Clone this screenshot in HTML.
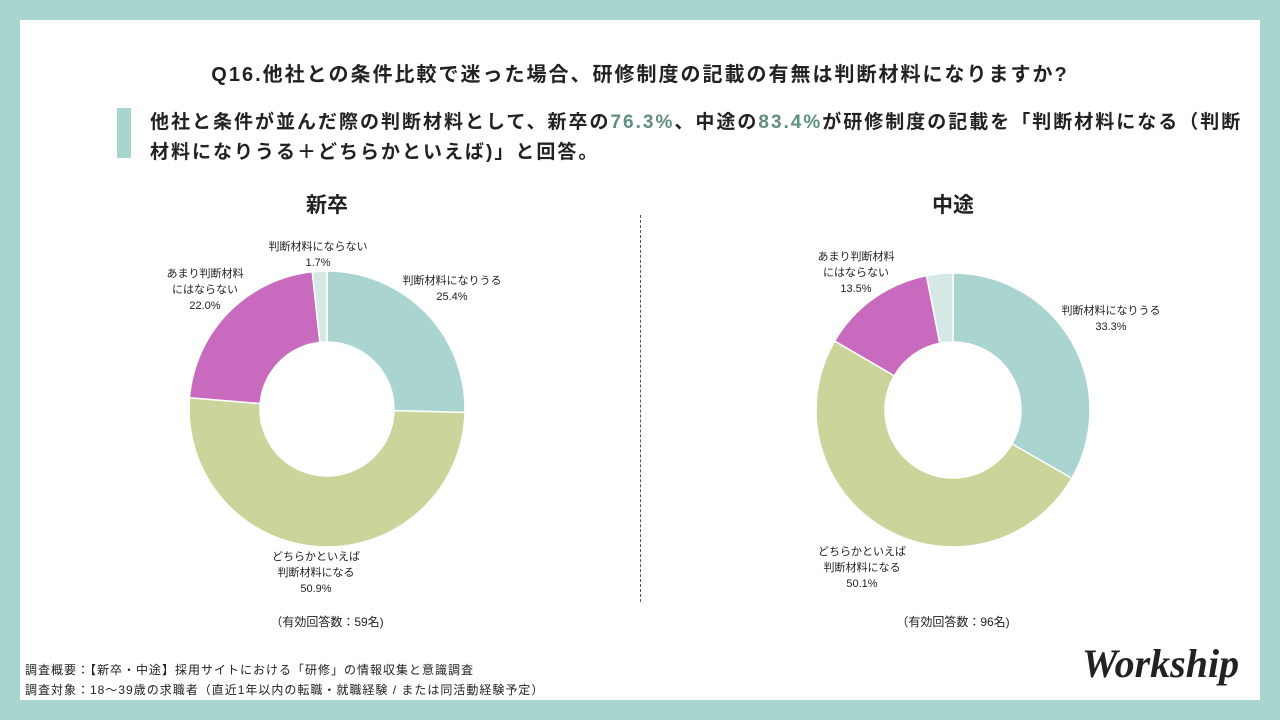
<!DOCTYPE html>
<html><head><meta charset="utf-8"><style>
body{margin:0;width:1280px;height:720px;background:#a9d5d1;font-family:"Liberation Sans","Noto Sans CJK JP",sans-serif;position:relative;overflow:hidden}
.card{position:absolute;left:20px;top:20px;width:1240px;height:680px;background:#fff}
.t{position:absolute;color:#222;white-space:nowrap}
</style></head><body>
<div class="card"></div>
<div class="t" style="left:0;width:1280px;text-align:center;top:58px;font-size:20px;font-weight:bold;letter-spacing:2px">Q16.他社との条件比較で迷った場合、研修制度の記載の有無は判断材料になりますか?</div>
<div style="position:absolute;left:117px;top:108px;width:14px;height:50px;background:#a9d5d1"></div>
<div class="t" style="left:150px;top:108px;font-size:19px;font-weight:bold;line-height:30px;letter-spacing:2px">他社と条件が並んだ際の判断材料として、新卒の<span style="color:#5f8f80">76.3%</span>、中途の<span style="color:#5f8f80">83.4%</span>が研修制度の記載を「判断材料になる（判断<br>材料になりうる＋どちらかといえば)」と回答。</div>
<div style="position:absolute;left:640px;top:215px;height:387px;border-left:1px dashed #555"></div>
<svg id="svg" width="1280" height="720" style="position:absolute;left:0;top:0"></svg>
<div class="t" style="left:25px;top:660px;font-size:12px;line-height:20px;letter-spacing:1px">調査概要：【新卒・中途】採用サイトにおける「研修」の情報収集と意識調査<br>調査対象：18〜39歳の求職者（直近1年以内の転職・就職経験 / または同活動経験予定）</div>
<div class="t" style="left:1082px;top:640px;font-size:40px;font-weight:bold;font-style:italic;font-family:'Liberation Serif',serif;color:#222">Workship</div>
<script>
const categories=["判断材料になりうる","どちらかといえば判断材料になる","あまり判断材料にはならない","判断材料にならない"];
const shinsotsu=[25.4,50.9,22.0,1.7];
const chuto=[33.3,50.1,13.5,3.1];
const colors=["#a9d4d0","#cbd49b","#c86bbe","#d6e8e6"];
const NS="http://www.w3.org/2000/svg";
const svg=document.getElementById('svg');
function txt(x,y,lines,size,weight,name){
  const t=document.createElementNS(NS,'text');
  
  
  t.setAttribute('x',x);t.setAttribute('y',y);t.setAttribute('text-anchor','middle');
  t.setAttribute('font-size',size);t.setAttribute('fill','#222');if(weight)t.setAttribute('font-weight',weight);
  t.setAttribute('font-family','"Liberation Sans","Noto Sans CJK JP",sans-serif');
  lines.forEach((l,i)=>{const s=document.createElementNS(NS,'tspan');s.setAttribute('x',x);s.setAttribute('dy',i?size*1.45:0);s.textContent=l;t.appendChild(s);});
  svg.appendChild(t);
}
function donut(cx,cy,R,r,vals,key){
  const tot=vals.reduce((a,b)=>a+b,0);let a0=0;
  vals.forEach((v,i)=>{
    const a1=a0+v/tot*Math.PI*2;
    const p=(a,rr)=>[cx+rr*Math.sin(a),cy-rr*Math.cos(a)];
    const [x1,y1]=p(a0,R),[x2,y2]=p(a1,R),[x3,y3]=p(a1,r),[x4,y4]=p(a0,r);
    const lg=(a1-a0)>Math.PI?1:0;
    const path=document.createElementNS(NS,'path');
    
    
    path.setAttribute('d',`M${x1},${y1}A${R},${R} 0 ${lg} 1 ${x2},${y2}L${x3},${y3}A${r},${r} 0 ${lg} 0 ${x4},${y4}Z`);
    path.setAttribute('fill',colors[i]);path.setAttribute('stroke','#fff');path.setAttribute('stroke-width','1.5');
    svg.appendChild(path);a0=a1;
  });
}
donut(327,409,138,67,shinsotsu,'shinsotsu');
donut(953,410,137,68,chuto,'chuto');
txt(327,212,["新卒"],21,'bold','shinsotsu-heading');
txt(953,212,["中途"],21,'bold','chuto-heading');
const f=v=>v.toFixed(1)+"%";
txt(452,284,["判断材料になりうる",f(shinsotsu[0])],11,null,'label');
txt(316,560,["どちらかといえば","判断材料になる",f(shinsotsu[1])],11,null,'label');
txt(205,277,["あまり判断材料","にはならない",f(shinsotsu[2])],11,null,'label');
txt(318,250,["判断材料にならない",f(shinsotsu[3])],11,null,'label');
txt(1111,314,["判断材料になりうる",f(chuto[0])],11,null,'label');
txt(862,555,["どちらかといえば","判断材料になる",f(chuto[1])],11,null,'label');
txt(856,260,["あまり判断材料","にはならない",f(chuto[2])],11,null,'label');
txt(327,626,["（有効回答数：59名)"],12,null,'n-shinsotsu');
txt(953,626,["（有効回答数：96名)"],12,null,'n-chuto');
</script>
</body></html>
